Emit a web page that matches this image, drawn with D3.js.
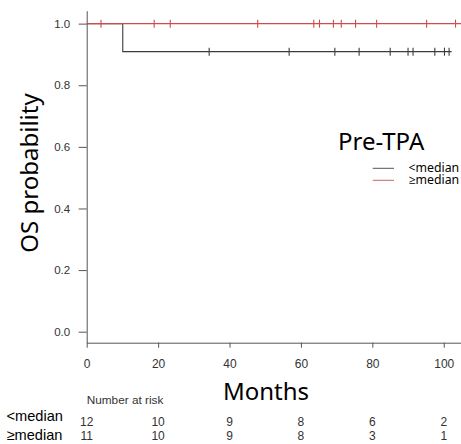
<!DOCTYPE html>
<html>
<head>
<meta charset="utf-8">
<script src="https://cdn.jsdelivr.net/npm/d3@7"></script>
<style>
  body { margin: 0; background: #fff; }
  svg { display: block; }
</style>
</head>
<body>
<div id="chart"></div>
<script>
// Kaplan-Meier curves
const monthTicks = [0, 20, 40, 60, 80, 100]
const probTicks = [0, 0.2, 0.4, 0.6, 0.8, 1.0]

const groups = ['<median', '≥median']
const riskLow = [12, 10, 9, 8, 6, 2]
const riskHigh = [11, 10, 9, 8, 3, 1]

// [months, survival] step points
const stepLow = [[0, 1], [10.1, 0.909], [102.2, 0.909]]
const stepHigh = [[0, 1], [105, 1]]

const censorLow = [34.3, 56.7, 69.5, 76.3, 85.0, 90.0, 91.4, 97.5, 100.2, 101.5]
const censorHigh = [4.0, 18.9, 23.4, 47.9, 63.6, 65.2, 69.1, 71.3, 75.3, 81.2, 95.2, 103.3]

const colorLow = '#3c3c3c'
const colorHigh = '#d24b4b'
const axisColor = '#555'
const textColor = '#333'

const width = 461
const height = 444

const svg = d3.select('#chart').append('svg')
  .attr('width', width)
  .attr('height', height)

const x = d3.scaleLinear()
  .domain([0, 105])
  .range([86.7, 461.6])

const y = d3.scaleLinear()
  .domain([-0.0357, 1.042])
  .range([342.7, 10.7])

// axes
const xAxis = g => g
  .attr('transform', `translate(0,${y.range()[0]})`)
  .call(d3.axisBottom(x).tickValues(monthTicks).tickSize(5).tickSizeOuter(0).tickPadding(12))
  .call(g => g.selectAll('.domain, line').attr('stroke', axisColor))
  .call(g => g.selectAll('text')
    .attr('fill', textColor)
    .style('font', '12px "Liberation Sans", Arial, sans-serif'))

const yAxis = g => g
  .attr('transform', `translate(${x.range()[0]},0)`)
  .call(d3.axisLeft(y).tickValues(probTicks).tickFormat(d3.format('.1f')).tickSize(8).tickSizeOuter(0).tickPadding(8.5))
  .call(g => g.selectAll('.domain, line').attr('stroke', axisColor))
  .call(g => g.selectAll('text')
    .attr('fill', textColor)
    .style('font', '11.5px "Liberation Sans", Arial, sans-serif'))

svg.append('g').call(xAxis)
svg.append('g').call(yAxis)

// curves
const line = d3.line()
  .curve(d3.curveStepAfter)
  .x(d => x(d[0]))
  .y(d => y(d[1]))

const survAt = (steps, t) => {
  let s = steps[0][1]
  steps.forEach(p => { if (p[0] <= t) s = p[1] })
  return s
}

const series = [
  {steps: stepLow, censor: censorLow, color: colorLow},
  {steps: stepHigh, censor: censorHigh, color: colorHigh}
]

series.forEach(s => {
  svg.append('path')
    .attr('fill', 'none')
    .attr('stroke', s.color)
    .attr('stroke-width', 1.1)
    .attr('d', line(s.steps))

  svg.append('g')
    .selectAll('line')
    .data(s.censor)
    .join('line')
    .attr('x1', d => x(d))
    .attr('x2', d => x(d))
    .attr('y1', d => y(survAt(s.steps, d)) - 4)
    .attr('y2', d => y(survAt(s.steps, d)) + 4)
    .attr('stroke', s.color)
    .attr('stroke-width', 1.1)
})

// axis titles
svg.append('text')
  .attr('transform', `translate(37.5,${173}) rotate(-90)`)
  .attr('text-anchor', 'middle')
  .attr('fill', '#000')
  .style('font', '24px "Noto Sans", "Open Sans", sans-serif')
  .text('OS probability')

svg.append('text')
  .attr('x', 266)
  .attr('y', 400)
  .attr('text-anchor', 'middle')
  .attr('fill', '#000')
  .style('font', '24px "Noto Sans", "Open Sans", sans-serif')
  .text('Months')

// legend
const legend = svg.append('g')
legend.append('text')
  .attr('x', 338)
  .attr('y', 149.5)
  .attr('fill', '#000')
  .style('font', '24px "Noto Sans", "Open Sans", sans-serif')
  .text('Pre-TPA')

const legendRows = legend.selectAll('g.row')
  .data(groups)
  .join('g')
  .attr('class', 'row')
  .attr('transform', (d, i) => `translate(0,${168.3 + i * 12})`)

legendRows.append('line')
  .attr('x1', 372.7)
  .attr('x2', 394)
  .attr('stroke', (d, i) => i === 0 ? '#555' : '#c86464')
  .attr('stroke-width', 1)

legendRows.append('text')
  .attr('x', 408.5)
  .attr('y', (d, i) => i === 0 ? 4 : 3.5)
  .attr('fill', '#000')
  .style('font', '12.3px "Noto Sans", "Open Sans", sans-serif')
  .text(d => d)

// number at risk table
svg.append('text')
  .attr('x', x(0))
  .attr('y', 403.5)
  .attr('fill', textColor)
  .style('font', '11.8px "Liberation Sans", Arial, sans-serif')
  .text('Number at risk')

const riskRows = [riskLow, riskHigh]
riskRows.forEach((row, i) => {
  svg.append('text')
    .attr('x', 6.5)
    .attr('y', i === 0 ? 420.5 : 440)
    .attr('fill', '#000')
    .style('font', '14.6px "Liberation Sans", Arial, sans-serif')
    .text(groups[i])

  svg.append('g')
    .selectAll('text')
    .data(row)
    .join('text')
    .attr('x', (d, j) => x(monthTicks[j]))
    .attr('y', i === 0 ? 425.7 : 439.5)
    .attr('text-anchor', 'middle')
    .attr('fill', textColor)
    .style('font', '12px "Liberation Sans", Arial, sans-serif')
    .text(d => d)
})
</script>
</body>
</html>
